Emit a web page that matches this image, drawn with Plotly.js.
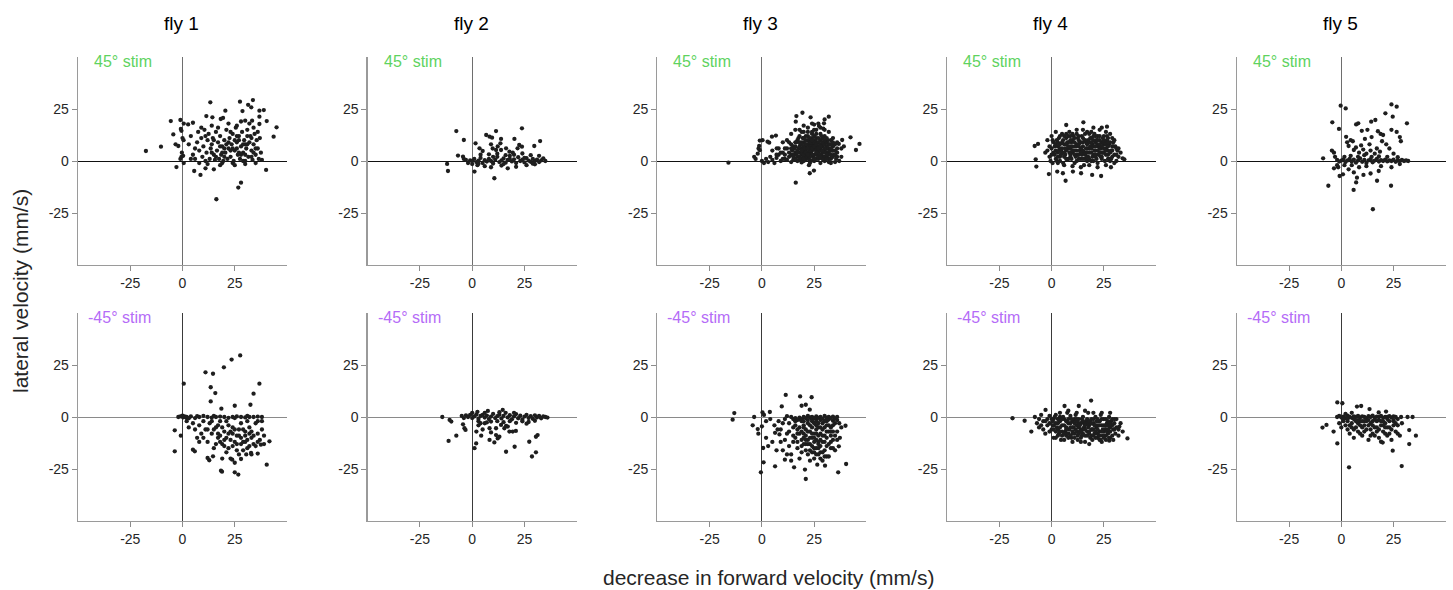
<!DOCTYPE html>
<html>
<head>
<meta charset="utf-8">
<script src="https://cdn.plot.ly/plotly-3.0.1.min.js"></script>
<style>html,body{margin:0;padding:0;background:#fff;}#chart{width:1453px;height:590px;}</style>
</head>
<body>
<div id="chart"></div>
<script>
const flies = ["fly 1", "fly 2", "fly 3", "fly 4", "fly 5"];
const stimLabels = ["45° stim", "-45° stim"];
const tickVals = [-25, 0, 25];
const tickText = ["-25", "0", "25"];
const xTitle = "decrease in forward velocity (mm/s)";
const yTitle = "lateral velocity (mm/s)";

// [decrease in forward velocity, lateral velocity] pairs
const fly1_pos = [[-17.5,4.8],[-10.3,6.9],[-5.6,19.2],[-4.4,12.8],[-3.3,8],[-2,7.2],[-2.9,-2.9],[-1,19.7],[-0.8,15.4],[-0.5,14.5],[0.6,18],[2.7,17.6],[5,18.4],[-1,1],[-0.5,2],[0.3,2.5],[0.6,-1],[0,11],[0.5,10],[-0.3,4],[5.6,-4.8],[8.6,-6.7],[11,-3.5],[15,-4],[16.2,-18.4],[28,-10.4],[26.7,-12.8],[40,-4.3],[45,16.2],[43.6,11.7],[13.3,28.2],[27.5,28.5],[33.7,29.3],[31.4,27],[32.9,25.8],[28.7,24],[20.5,24.2],[36.8,24.2],[38.9,24.5],[11.4,21.6],[14.3,21],[18.3,20.2],[19.4,20.7],[30,19.4],[33.3,19.4],[36.8,21.3],[40.3,19.2],[36.8,17.8],[3,8],[4,12],[5,3],[6,1],[7,9],[7.5,14],[8,5],[9,11],[9.5,2],[10,7],[10.5,15],[11,0],[11.5,4],[12,10],[12.5,13],[13,1],[13.5,6],[14,8],[14.5,11],[15,3],[15.5,0.5],[16,14],[16.5,5],[17,9],[17.5,1],[18,12],[18.5,3],[19,7],[19.5,0],[20,10],[20.5,4],[21,15],[21.5,1],[22,6],[22.5,11],[23,2],[23.5,8],[24,13],[24.5,0],[25,5],[25.5,16],[26,9],[26.5,3],[27,12],[27.5,1],[28,7],[28.5,14],[29,4],[29.5,10],[30,0],[30.5,6],[31,15],[31.5,2],[32,9],[32.5,12],[33,5],[33.5,0.5],[34,8],[34.5,13],[35,3],[35.5,10],[36,6],[36.5,1],[37,11],[37.5,4],[38,0.5],[12,-1.5],[18,-2],[24,-1],[30,-1.5],[35,-1],[14,17],[22,18],[26,17],[28,19],[32,18],[9,16],[6,6],[4,1],[8,-1],[20,2],[22,9],[26,6],[30,3],[34,16],[17,16],[19,-1],[25,-2],[29,0],[33,2],[36,14],[23,14],[27,10],[31,8],[15,10],[11,12],[16,2],[19,4],[21,8],[24,6],[27,4],[30,8],[33,11],[35,6],[18,7],[23,5],[28,3],[31,12],[25,10],[29,8],[34,4],[20,6],[14,4],[26,12]];
const fly1_neg = [[0.6,16],[-3.7,-16.5],[-3.7,-6.4],[-0.8,-9],[-2,0],[-1,0.3],[0,0.6],[0.3,-0.2],[1,0.3],[2,-0.5],[11,21.5],[14.6,20.8],[19.8,23.9],[23.5,27.6],[27.6,29.6],[36.8,16],[34,11.2],[32.5,5.9],[25,5.4],[13.5,14.3],[15.7,11.5],[13.5,7.5],[18.6,4],[40.3,-22.9],[41.6,-11.7],[39,-13],[37.5,-13.3],[12,-19.7],[12.8,-20.8],[14.6,-18.9],[18.4,-25.8],[18.9,-26.3],[25,-26.6],[26.7,-27.7],[23.8,-20.5],[28,-20.2],[30.5,-18],[32.8,-17.3],[36,-17.6],[5,-15.7],[5.9,-16.5],[2,0],[4,0.3],[6,-0.5],[8,0],[10,0.5],[12,0],[14,-0.3],[16,0],[18,0.2],[20,0],[22,-0.4],[24,0],[26,0.3],[28,0],[30,-0.2],[32,0],[34,0],[36,0.2],[38,0],[3,-0.6],[7,0.4],[15,0.5],[25,-0.5],[31,0.5],[5,-3],[6,-6],[7,-10],[8,-4],[9,-8],[10,-2],[11,-6],[12,-12],[13,-3],[14,-8],[15,-15],[16,-5],[17,-10],[18,-2],[19,-13],[20,-7],[21,-17],[22,-4],[23,-11],[24,-14],[25,-6],[26,-9],[27,-18],[28,-3],[29,-12],[30,-7],[31,-15],[32,-5],[33,-10],[34,-13],[35,-3],[36,-8],[37,-11],[38,-6],[39,-9],[20,-11],[22,-15],[24,-8],[26,-13],[28,-10],[30,-12],[32,-8],[18,-9],[16,-13],[27,-6],[29,-16],[33,-18],[35,-14],[23,-20],[19,-20],[25,-22],[12,-6],[10,-10],[8,-12],[3,-5],[2,-2],[14,-2],[36,-2],[31,-2],[21,-2],[17,-4],[38,-2],[15,-6],[17,-8],[19,-5],[21,-10],[23,-7],[25,-12],[27,-9],[29,-6],[31,-11],[33,-7],[20,-14],[24,-5],[26,-16],[28,-13],[30,-9],[32,-14],[34,-9],[22,-8],[18,-12],[36,-12]];
const fly2_pos = [[-7.6,14.4],[-4,10.1],[-6.8,2.6],[-4.4,2.1],[-12,-1.4],[-11.6,-4.8],[1.1,-5.1],[10.6,-8.3],[11.4,14.4],[23.8,15.7],[6.7,12.5],[8.3,11.7],[9.5,11.2],[13.8,10.6],[13.5,8.5],[20.2,10.6],[32.5,9.6],[29.7,7.2],[22.5,7.7],[21.7,6.1],[23.8,6.9],[1.6,8.5],[3.5,6.1],[5,4.8],[9,8],[9.8,6],[11.4,5.3],[13.8,5.3],[16.2,6.1],[17.8,4.5],[19.4,4],[12.2,7],[35,0],[34,1.3],[-4,1],[-3,0.5],[-2,-1],[-1,0.3],[0,0],[0,-1.5],[1,1],[2,-0.5],[3,0.2],[4,1.5],[5,-1],[6,0.4],[7,-0.3],[8,1],[9,0],[10,-1.2],[11,0.6],[12,2],[13,-0.5],[14,0.3],[15,1.2],[16,-0.8],[17,0.5],[18,2.5],[19,-0.2],[20,0.8],[21,-1],[22,1.8],[23,0],[24,0.6],[25,-0.7],[26,1.4],[27,0.2],[28,-0.4],[29,1],[30,0],[31,0.7],[32,-0.5],[33,0.3],[2.5,-2],[6,-2.5],[9,-3],[14,-2.2],[17,-3.5],[21,-2.8],[26,-2],[30,-1.6],[4,3],[8,3.2],[12,3.5],[16,2.8],[20,3],[24,3.6],[28,2.8],[32,2.5],[10,2],[18,1],[25,1.5],[29,-1.3],[3,-1.3],[15,-1.5]];
const fly2_neg = [[-14.3,0],[-10.8,-1.4],[-10,-2.2],[-11.3,-11.5],[-7.6,-9],[-4.4,-3.5],[-3.7,-5.4],[-3.2,-6.2],[1.1,-15],[1.9,-12.7],[4.3,-9],[7.5,2.9],[14.6,3.4],[16.2,-16.7],[20.3,-14.3],[28.6,-19],[30.5,-17],[27.3,-11.9],[30.5,-9.5],[31.3,-8.7],[8.3,-11],[11.4,-8.7],[12.2,-10.3],[13,-9.5],[15.4,-5.4],[16.2,-4.3],[17.8,-7],[19.4,-7],[20.9,-6.7],[11.4,-5.4],[13.8,-3.8],[17,-4.6],[8.3,-5.4],[9,-7.4],[10.6,-12.2],[3,-4],[5,-6],[2,-7],[6,-3],[-5,0.5],[-4,-0.5],[-3,0.8],[-2,0],[-1,1],[0,-0.5],[1,0.3],[2,1.2],[3,-0.8],[4,0.5],[5,1],[6,-0.3],[7,0.7],[8,-1],[9,0.2],[10,1.5],[11,-0.5],[12,0.4],[13,1.1],[14,-0.7],[15,0.5],[16,2],[17,-0.2],[18,0.9],[19,-1.1],[20,0.3],[21,1.4],[22,-0.6],[23,0.6],[24,-1.3],[25,0.2],[26,1],[27,-0.5],[28,0.4],[29,-0.9],[30,0.8],[31,-0.2],[32,0.5],[33,-0.6],[34,0.3],[35,0],[36,-0.3],[0,2],[3,-2],[6,2],[9,-2.2],[12,-2],[15,-2.5],[18,-2],[21,-2.8],[24,-2.1],[27,-2.4],[30,-1.8],[4,-3],[7,-2.6],[2.5,2.5],[13,2.3],[20,2],[26,-3.2]];
const fly3_pos = [[-16,-0.8],[-3.7,2],[-3,1],[-2,3.5],[-1.6,6],[-1,5.2],[-1.3,7.2],[-1,9.8],[0.3,10],[2.7,9.3],[3.5,8.8],[4.8,11.7],[6.7,12.2],[7.1,6.1],[16.5,21.6],[19.4,23.2],[16.2,18.9],[23.3,21],[25,17.5],[27.3,16.8],[30,20],[29.7,18.1],[32,21.3],[29.4,15.5],[42.4,11.4],[46.7,8.2],[45,5.3],[38.4,10.1],[36.8,8.2],[39.2,7],[16.2,-10.4],[22.9,-5.9],[24.9,-4.6],[22.5,-2],[0,0],[1,-1],[2,1],[3,-0.5],[4,2],[5,0.5],[6,-1],[7,1.5],[8,3],[9,0],[10,4],[11,1],[12,6],[13,2],[14,8],[15,0.5],[10,9],[12,10],[14,13],[16,15],[18,12],[20,14],[22,16],[24,13],[26,15],[28,13],[30,12],[32,14],[34,11],[36,9],[38,6],[36,4],[34,2],[38,2],[37,0],[35,-0.5],[33,-1],[14,3],[14.5,5],[15,7],[15.5,1],[16,4],[16.5,9],[17,2],[17.5,6],[18,0.5],[18.5,8],[19,3],[19.5,11],[20,5],[20.5,1],[21,7],[21.5,3],[22,10],[22.5,6],[23,0],[23.5,4],[24,8],[24.5,2],[25,12],[25.5,6],[26,3],[26.5,9],[27,1],[27.5,5],[28,10],[28.5,3],[29,7],[29.5,0.5],[30,5],[30.5,9],[31,2],[31.5,6],[32,4],[32.5,8],[33,1],[33.5,5],[34,7],[34.5,3],[35,5],[35.5,1],[18,4],[19,6],[20,9],[21,0.5],[22,4],[23,7],[24,5],[25,3],[26,7],[27,4],[28,6],[29,2],[30,8],[31,4],[32,1],[33,3],[20,2],[21,10],[22,8],[23,3],[24,11],[25,8],[26,1],[27,9],[28,1.5],[29,11],[30,2],[31,9],[32,6],[17,10],[16,7],[19,1],[24,0.3],[27,7],[29,4],[31,7],[26,5],[23,9],[21,5],[18,2],[25,5.5],[28,8],[22,2],[20,7],[26,11],[24,14],[30,15],[27,18],[25,15],[19,14],[21,12],[33,10],[35,8],[17,0],[15,3],[13,4],[11,6],[9,4],[7,3],[5,5],[12,0.5],[16,1],[20,0],[25,0],[30,0],[32,-0.5],[28,-1],[23,-1],[19,-0.7],[14,-0.5],[15,2],[15.5,6],[16,9],[16.5,3],[17,5],[17.5,11],[18,7],[18.5,1],[19,9],[19.5,4],[20,11],[20.5,6],[21,2],[21.5,8],[22,12],[22.5,1],[23,5],[23.5,9],[24,3],[24.5,7],[25,1],[25.5,10],[26,4],[26.5,6],[27,11],[27.5,3],[28,5],[28.5,12],[29,1],[29.5,8],[30,4],[30.5,2],[31,6],[31.5,10],[32,3],[32.5,5],[33,8],[33.5,2],[34,5],[35,3],[36,6],[17,4],[18,9],[19,5],[20,3],[21,8],[22,6],[23,2],[24,6],[25,9],[26,6],[27,2],[28,7],[29,9],[30,6],[31,1],[32,8],[19,8],[21,4],[23,11],[25,7],[27,6],[29,5],[31,3],[20,1],[22,3],[24,10],[26,8],[28,2],[30,10],[33,6],[22,14],[26,13],[28,16],[24,18],[20,17],[31,11],[18,15],[34,9],[36,2],[14,6],[13,9],[11,3],[10,1],[8,6]];
const fly3_neg = [[-13.2,1.9],[-14,-1.3],[-0.5,-26.6],[0.8,-21.8],[0.6,-14.9],[-3.7,0],[-4.4,-4],[-2,-5.8],[-1.7,-8],[0.3,2.2],[1,1],[0,-4.5],[2,-2],[3.8,2.4],[11.4,10.6],[18.3,9.9],[23.8,9.5],[19,5.4],[21,5.9],[22.9,3.5],[9.5,5.1],[6.3,-7.6],[7.5,-6],[8.4,-8.4],[6.3,-23.7],[11,-20.5],[15.4,-24.2],[21,-29.8],[20.6,-25.3],[26.5,-22.9],[30.2,-23.4],[36.5,-26.6],[40.3,-22.6],[40,-4.2],[37.3,-10],[36.8,-14.1],[2,-10],[3,-14],[5,-12],[7,-16],[9,-12],[10,-3],[12,-8],[13,-14],[14,-18],[15,-5],[16,-10],[17,-15],[18,-20],[19,-2],[20,-8],[21,-13],[22,-18],[23,-4],[24,-10],[25,-15],[26,-6],[27,-12],[28,-17],[29,-3],[30,-9],[31,-14],[32,-19],[33,-5],[34,-11],[35,-16],[36,-7],[37,-3],[38,-5],[18,-1],[20,-4],[22,-7],[24,-2],[26,-11],[28,-8],[30,-5],[32,-13],[34,-7],[25,-20],[27,-18],[29,-21],[23,-13],[21,-9],[19,-11],[17,-6],[16,-2],[20,0],[22,0.5],[24,0],[26,0.3],[28,0],[30,0.5],[32,0],[34,0.2],[36,0],[14,0],[12,0.4],[25,-8],[27,-5],[31,-7],[33,-9],[29,-12],[26,-15],[24,-17],[30,-16],[28,-14],[25,-3],[21,-16],[19,-17],[23,-21],[31,-19],[33,-15],[22,-11],[18,-8],[15,-12],[13,-3],[11,-1],[35,-3],[36,-11],[34,-15],[26,-1],[27,-9],[29,-6],[23,-7],[31,-2],[20,-13],[25,-12],[15,-1],[16,-0.5],[17,-1.5],[18,-0.3],[19,-1],[20,-2],[21,-0.5],[22,-1.5],[23,-0.2],[24,-1.2],[25,-0.6],[26,-2],[27,-0.4],[28,-1.5],[29,-0.8],[30,-1.7],[31,-0.3],[32,-1.2],[33,-0.5],[34,-1.8],[35,-0.7],[36,-1.5],[16,-4],[17,-8],[18,-5],[19,-14],[20,-10],[21,-6],[22,-3],[23,-10],[24,-5],[25,-17],[26,-8],[27,-3],[28,-11],[29,-9],[30,-12],[31,-4],[32,-7],[33,-12],[34,-4],[35,-9],[22,-13],[24,-14],[26,-18],[28,-20],[30,-19],[27,-15],[29,-17],[23,-16],[21,-11],[20,-5],[25,-10],[27,-13],[31,-10],[33,-7],[24,-8],[26,-4],[28,-5],[30,-2],[32,-4],[19,-7],[17,-12],[15,-9],[13,-7],[11,-11],[9,-6],[8,-2],[6,-4],[4,-1],[10,-16],[12,-18],[14,-21]];
const fly4_pos = [[7,17.3],[15.2,18.6],[26.5,16.5],[-8.1,7.2],[-6.5,8.2],[-7.6,0.8],[-7.3,-2.7],[-1.3,-6.3],[2.7,-5.1],[5.4,-5.9],[6.7,-9.5],[10.2,-5.1],[14.1,-5.9],[19.4,-6.7],[23.7,-7.2],[28.4,-3],[34,1.3],[34.8,0.8],[-3,4],[-2,10],[-1,2],[0,6],[0,12],[0.5,-1],[1,9],[1.5,3],[2,14],[2.5,0],[3,7],[3.5,11],[4,2],[4.5,5],[5,13],[5.5,-1],[6,8],[6.5,3],[7,11],[7.5,0.5],[8,6],[8.5,14],[9,2],[9.5,9],[10,4],[10.5,12],[11,-1],[11.5,7],[12,15],[12.5,3],[13,10],[13.5,5],[14,1],[14.5,12],[15,7],[15.5,-2],[16,4],[16.5,9],[17,14],[17.5,2],[18,6],[18.5,11],[19,0],[19.5,8],[20,3],[20.5,13],[21,5],[21.5,10],[22,-1],[22.5,7],[23,15],[23.5,2],[24,9],[24.5,4],[25,12],[25.5,0],[26,6],[26.5,10],[27,3],[27.5,8],[28,13],[28.5,1],[29,5],[29.5,9],[30,3],[30.5,7],[31,0],[31.5,5],[32,2],[33,4],[3,4],[5,9],[7,5],[9,12],[11,3],[13,7],[15,11],[17,6],[19,4],[21,9],[23,6],[25,8],[27,5],[29,11],[4,0],[8,1],[12,0],[16,1],[20,0],[24,1],[28,0],[6,-2],[10,-2.5],[14,-3],[18,-2],[22,-3],[26,-2],[30,-1],[2,5],[6,12],[10,10],[14,9],[18,13],[22,12],[26,14],[10,7],[16,3],[20,7],[24,4],[12,5],[18,9],[22,5],[8,9],[4,8],[15,15],[20,16],[24,16],[19,11],[13,12],[9,6],[27,11],[23,10],[21,2],[17,0],[26,8],[1,4],[1.5,7],[2,1],[2.5,10],[3,-1],[3.5,5],[4,12],[4.5,3],[5,6],[5.5,10],[6,2],[6.5,6],[7,1],[7.5,9],[8,12],[8.5,4],[9,7],[9.5,1],[10,13],[10.5,5],[11,9],[11.5,2],[12,8],[12.5,11],[13,1],[13.5,9],[14,6],[14.5,3],[15,9],[15.5,4],[16,13],[16.5,6],[17,2],[17.5,10],[18,4],[18.5,7],[19,14],[19.5,2],[20,10],[20.5,5],[21,12],[21.5,1],[22,8],[22.5,3],[23,12],[23.5,6],[24,2],[24.5,11],[25,6],[25.5,9],[26,3],[26.5,12],[27,7],[27.5,1],[28,9],[28.5,5],[29,2],[29.5,7],[30,10],[31,3],[32,6],[0,3],[-1,7],[-2,5],[0.5,10],[-0.5,0],[2,8],[3,2],[5,4],[7,8],[9,3],[11,11],[13,3],[15,5],[17,8],[19,6],[21,3],[23,8],[25,4],[27,9],[29,7],[6,4],[10,5],[14,4],[18,1],[22,10],[26,5],[8,7],[12,13],[16,10],[20,12],[24,7],[28,4],[4,6],[9,10],[13,8],[17,4],[21,7],[25,10],[3,9],[7,13],[11,5],[15,1],[19,9],[23,4],[27,1],[31,6]];
const fly4_neg = [[-18.7,-0.6],[-12.9,-1.8],[18.9,7.9],[13,5.3],[6.2,5.3],[-2.9,3.4],[36.3,-10.3],[32.4,-4.6],[-9.7,-7],[27.6,-11.4],[23,-11],[-8,0],[-7,-3],[-6,-5],[-5,1],[-4,-2],[-3,-8],[-2,-4],[-1,0.5],[0,-6],[0.5,-2],[1,-10],[2,1],[2.5,-5],[3,-3],[3.5,-8],[4,0],[4.5,-11],[5,-4],[6,-1],[6.5,-7],[7,-9],[7.5,2],[8,-3],[8.5,-6],[9,0.5],[9.5,-10],[10,-2],[10.5,-5],[11,-8],[11.5,1],[12,-4],[12.5,-11],[13,-1],[13.5,-7],[14,-3],[14.5,-9],[15,0],[15.5,-5],[16,-12],[16.5,-2],[17,-7],[17.5,2],[18,-4],[18.5,-10],[19,-1],[19.5,-6],[20,-3],[20.5,-8],[21,0],[21.5,-5],[22,-10],[22.5,-2],[23,-7],[23.5,1],[24,-4],[24.5,-9],[25,-1],[25.5,-6],[26,-11],[26.5,-3],[27,-8],[27.5,0],[28,-5],[28.5,-2],[29,-9],[29.5,-6],[30,-3],[30.5,-8],[31,-1],[32,-6],[33,-3],[34,-7],[1,-1],[3,-6],[5,-9],[7,-5],[9,-3],[11,-1],[13,-5],[15,-8],[17,-3],[19,-9],[21,-4],[23,-2],[25,-7],[27,-4],[29,-1],[6,-11],[10,-12],[14,-12],[18,-13],[24,-12],[28,-10],[-4,-6],[-6,-1],[2,-7],[4,-2],[8,-8],[12,-7],[16,-6],[20,-6],[22,-4],[26,-6],[30,-6],[12,2],[16,3],[20,2],[8,3],[4,2],[24,2],[28,2],[10,-7],[14,-6],[18,-7],[22,-8],[26,-9],[-2,-1],[-1,-3],[0,-1],[0.5,-4],[1,-6],[1.5,0],[2,-3],[3,-9],[3.5,-1],[4,-5],[5,-7],[5.5,0],[6,-4],[7,-2],[7.5,-8],[8,-10],[9,-5],[9.5,-1],[10,-8],[11,-3],[11.5,-6],[12,-1],[12.5,-9],[13,-3],[13.5,-4],[14,-10],[14.5,-1],[15,-6],[15.5,-3],[16,-9],[17,-1],[17.5,-5],[18,-8],[18.5,-3],[19,-6],[19.5,-11],[20,-1],[20.5,-4],[21,-7],[21.5,-2],[22,-6],[22.5,-9],[23,-4],[23.5,-11],[24,-1],[24.5,-6],[25,-4],[25.5,-9],[26,-1],[26.5,-7],[27,-2],[27.5,-10],[28,-7],[29,-4],[29.5,-11],[30,-1],[31,-5],[32,-9],[-3,-2],[-5,-4],[-1,-7],[2,-10],[6,-8],[10,-5],[14,-7],[18,-2],[22,-1],[26,-4],[1,-4],[5,-1],[9,-9],[13,-8],[17,-9],[21,-10],[25,-10],[3,-1],[7,-6],[11,-10],[15,-2],[19,-3],[23,-9],[27,-6],[4,-7],[8,-1],[12,-2],[16,-4],[20,-9],[24,-7],[28,-3]];
const fly5_pos = [[-0.3,26.6],[2.1,25.3],[24,27.2],[26.5,26.1],[-4.3,18.6],[-1.1,15.4],[21.1,22.9],[24.6,21.3],[31.4,18.1],[14.3,18.9],[16.3,19.7],[8.1,18.1],[7.1,17.6],[9.8,14.5],[11.3,10.6],[12.5,15],[13.5,8],[14.5,11.5],[17.5,14.3],[18.8,13],[19.5,9.5],[20,12.5],[21.5,8],[23,6],[25,3.5],[26.5,14],[28,11.5],[28.5,9.5],[24,15],[2.3,11.6],[2.8,9],[3.5,7.2],[4.5,10],[5.5,9.5],[6,5.3],[7,6.5],[8.5,4],[9.5,7.5],[10.5,5.5],[12,3.5],[14,5],[16,3.5],[17,6],[18.5,4.5],[-4.5,5],[-3.5,4],[-3,2],[-2,-2],[-1.5,-3],[-3.5,-3.5],[-8.7,1.3],[-6.2,-11.9],[-0.8,-7.2],[0.8,-6.4],[5.9,-13.9],[7.1,-10.3],[10.6,-6.7],[15.1,-23.2],[17.1,-9.5],[17.9,-4.8],[23.8,-11.9],[6,-5.5],[7.5,-8],[8.5,-3],[12,-2.5],[14,-6],[3.5,-4],[5,-2],[1.5,-2],[19,-2.5],[24,-3],[28,-1.5],[-2,0.5],[-1,-0.3],[0,0.2],[1,0.8],[2,-0.5],[3,0.3],[4,1],[5,-0.2],[6,0.6],[7,-0.8],[8,0.2],[9,1.2],[10,-0.4],[11,0.5],[12,-1],[13,0.3],[14,0.9],[15,-0.6],[16,0.2],[17,1],[18,-0.3],[19,0.4],[20,0],[21,0.7],[22,-0.2],[23,0.3],[24,0],[25,0.6],[26,-0.4],[27,0.2],[28,0],[29,0.5],[30,0],[31,0.3],[32,0],[1.5,2],[4.5,2.5],[8,2],[11,2.8],[14.5,2],[18,2.2],[22,2],[27,1.8]];
const fly5_neg = [[-1.9,7],[0.5,6.6],[7.5,5],[9.5,5.3],[13.5,3.8],[17.9,2.2],[21.4,2.6],[-9,-5.1],[-7.1,-3.8],[-3.7,-7],[-1.9,-12.7],[3.7,-24.2],[24.6,-16.2],[28.9,-23.6],[32.5,-13],[35.7,-9],[32.5,-6.3],[28.6,0],[31.7,0],[34.1,0],[19,-11.9],[19.8,-12.3],[-2,0],[-1,0.5],[0,-0.3],[1,0.2],[2,-0.5],[3,0.6],[4,0],[5,-0.4],[6,0.3],[7,0],[8,0.5],[9,-0.2],[10,0.3],[11,0],[12,-0.5],[13,0.4],[14,0],[15,0.6],[16,-0.3],[17,0.2],[18,0],[19,0.5],[20,-0.4],[21,0.1],[22,0],[23,0.4],[24,-0.2],[25,0.3],[26,0],[1,-2],[2,-4],[3,-6],[4,-8],[5,-3],[6,-10],[7,-5],[8,-7],[9,-2],[10,-9],[11,-4],[12,-6],[13,-11],[14,-3],[15,-8],[16,-5],[17,-2],[18,-10],[19,-4],[20,-7],[21,-3],[22,-9],[23,-5],[24,-11],[25,-2],[26,-7],[27,-4],[28,-9],[29,-3],[0,-5],[-1,-3],[3,-2],[6,-6],[9,-8],[12,-2],[15,-4],[18,-6],[21,-8],[24,-6],[27,-8],[4,-4],[8,-3],[11,-7],[14,-9],[17,-7],[20,-2],[23,-8],[26,-3],[10,-5],[16,-9],[22,-5],[2,1.5],[5,2],[8,-1.5],[13,-1.5],[18,-1.5],[25,-1.5],[1,-1],[3,-1],[5,-5],[7,-2],[9,-4],[11,-2],[13,-4],[15,-2],[17,-5],[19,-2],[21,-5],[23,-2],[25,-4],[27,-1],[14,-6],[20,-4],[6,-1],[10,-2],[16,-1],[22,-1]];

const panels = [
  [fly1_pos, fly2_pos, fly3_pos, fly4_pos, fly5_pos],
  [fly1_neg, fly2_neg, fly3_neg, fly4_neg, fly5_neg]
];

// ---- layout geometry (pixels) ----
const W = 1453, H = 590;
const colLeft = [78, 367.7, 657.4, 947.1, 1236.8];
const panelW = 209;
const rowTop = [57, 313];
const panelH = 208;
const fx = p => p / W;
const fy = p => 1 - p / H;

const FONT = "Liberation Sans, Arial, sans-serif";
const tickFont = {family: FONT, size: 14, color: "#262626"};
const data = [];
const layout = {
  width: W, height: H,
  margin: {l: 0, r: 0, t: 0, b: 0},
  paper_bgcolor: "#fff", plot_bgcolor: "rgba(0,0,0,0)",
  showlegend: false,
  annotations: [],
  font: {family: FONT}
};

for (let r = 0; r < 2; r++) {
  for (let c = 0; c < 5; c++) {
    const idx = r * 5 + c + 1;
    const xa = "x" + (idx === 1 ? "" : idx);
    const ya = "y" + (idx === 1 ? "" : idx);
    const pts = panels[r][c];
    data.push({
      type: "scatter", mode: "markers",
      x: pts.map(p => p[0]), y: pts.map(p => p[1]),
      xaxis: xa, yaxis: ya,
      marker: {size: 4.3, color: "#1e1e1e"},
      hoverinfo: "skip"
    });
    const common = {
      range: [-50, 50], tickvals: tickVals, ticktext: tickText,
      ticks: "outside", ticklen: 5, tickcolor: "#8c8c8c", tickwidth: 1,
      showline: true, linecolor: "#9a9a9a", linewidth: 1.3,
      showgrid: false, zeroline: true, zerolinewidth: 1,
      tickfont: tickFont, fixedrange: true, automargin: false
    };
    layout["xaxis" + (idx === 1 ? "" : idx)] = Object.assign({}, common, {
      domain: [fx(colLeft[c]), fx(colLeft[c] + panelW)],
      anchor: ya,
      zerolinecolor: r === 0 ? "#6e6e6e" : "#3a3a3a"
    });
    layout["yaxis" + (idx === 1 ? "" : idx)] = Object.assign({}, common, {
      domain: [fy(rowTop[r] + panelH), fy(rowTop[r])],
      anchor: xa,
      zerolinecolor: r === 0 ? "#111111" : "#8a8a8a"
    });
    layout.annotations.push({
      xref: "paper", yref: "paper",
      x: fx(colLeft[c] + (r === 0 ? 14 : 8)), y: fy(rowTop[r] + 4),
      xanchor: "left", yanchor: "middle", showarrow: false,
      text: stimLabels[r],
      font: {family: FONT, size: 16, color: r === 0 ? "#5fd35f" : "#b56cf7"}
    });
  }
}
for (let c = 0; c < 5; c++) {
  layout.annotations.push({
    xref: "paper", yref: "paper",
    x: fx(colLeft[c] + panelW / 2 - 1), y: fy(23),
    xanchor: "center", yanchor: "middle", showarrow: false,
    text: flies[c],
    font: {family: FONT, size: 19, color: "#000"}
  });
}
layout.annotations.push({
  xref: "paper", yref: "paper", x: fx(768), y: fy(577),
  xanchor: "center", yanchor: "middle", showarrow: false,
  text: xTitle, font: {family: FONT, size: 21, color: "#262626"}
});
layout.annotations.push({
  xref: "paper", yref: "paper", x: fx(20), y: fy(291),
  xanchor: "center", yanchor: "middle", showarrow: false, textangle: -90,
  text: yTitle, font: {family: FONT, size: 21, color: "#262626"}
});

Plotly.newPlot("chart", data, layout, {staticPlot: true, displayModeBar: false});
</script>
</body>
</html>
